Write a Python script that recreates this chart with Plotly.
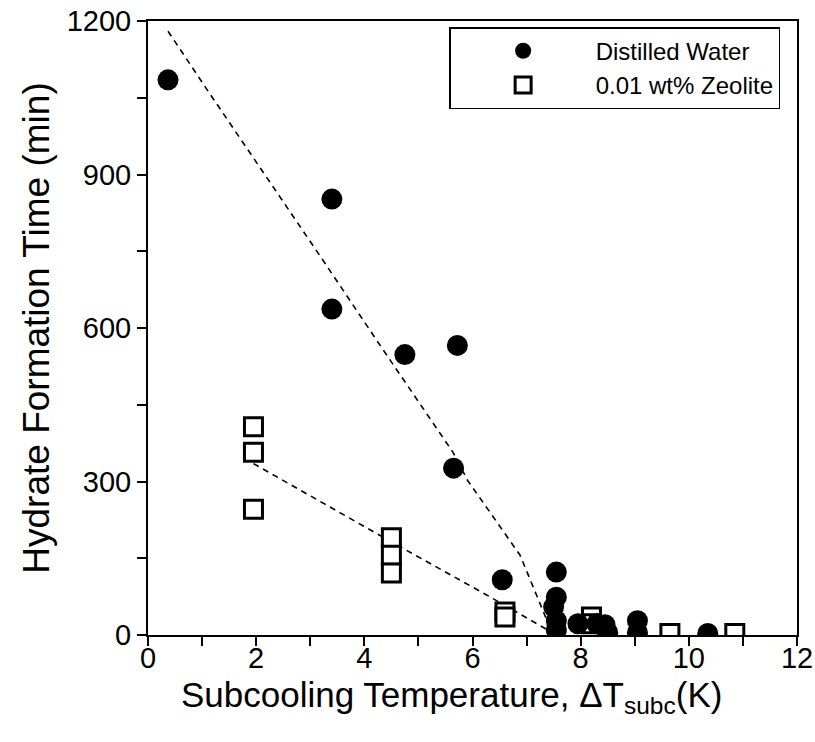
import plotly.graph_objects as go

# Distilled water (filled circles)
dw_x = [0.37, 3.4, 3.4, 4.75, 5.72, 5.65, 6.55, 7.55, 7.55, 7.5, 7.55, 7.55, 7.95, 8.3, 8.45, 8.5, 9.05, 9.05, 10.35]
dw_y = [1085, 852, 637, 548, 566, 326, 108, 123, 74, 55, 28, 10, 22, 22, 20, 5, 28, 5, 3]

# 0.01 wt% Zeolite (open squares)
ze_x = [1.95, 1.95, 1.95, 4.5, 4.5, 4.5, 6.6, 6.6, 8.2, 8.2, 9.65, 10.85]
ze_y = [407, 357, 246, 190, 156, 121, 45, 35, 35, 22, 3, 3]

# dashed trend lines
dw_fit_x = [0.37, 1.11, 3.18, 4.33, 5.64, 5.91, 6.88, 7.39, 7.54]
dw_fit_y = [1180, 1063, 741, 560, 357, 302, 156, 25, 6]
ze_fit_x = [1.95, 4.5, 6.3, 7.3, 7.55]
ze_fit_y = [335, 182, 76, 14, 0]

x_ticks = [0, 2, 4, 6, 8, 10, 12]
y_ticks = [0, 300, 600, 900, 1200]

x_title = "Subcooling Temperature, ΔT<sub>subc</sub>(K)"
y_title = "Hydrate Formation Time (min)"

FONT = "Liberation Sans, Arial, sans-serif"

fig = go.Figure()
fig.add_trace(go.Scatter(x=dw_fit_x, y=dw_fit_y, mode="lines",
                         line=dict(color="black", width=1.6, dash="6px,5px"),
                         showlegend=False, hoverinfo="skip"))
fig.add_trace(go.Scatter(x=ze_fit_x, y=ze_fit_y, mode="lines",
                         line=dict(color="black", width=1.6, dash="6px,5px"),
                         showlegend=False, hoverinfo="skip"))
fig.add_trace(go.Scatter(x=ze_x, y=ze_y, mode="markers", name="0.01 wt% Zeolite",
                         marker=dict(symbol="square", size=18, color="white",
                                     line=dict(color="black", width=3))))
fig.add_trace(go.Scatter(x=dw_x, y=dw_y, mode="markers", name="Distilled Water",
                         marker=dict(symbol="circle", size=21, color="black",
                                     line=dict(width=0))))

axis_common = dict(
    showline=True, linecolor="black", linewidth=2, mirror=True,
    showgrid=False, zeroline=False, automargin=False,
    ticks="outside", ticklen=9, tickwidth=2, tickcolor="black",
    tickfont=dict(family=FONT, size=29, color="black"),
)

fig.update_layout(
    width=815, height=742,
    margin=dict(l=148, r=18, t=21, b=107),
    plot_bgcolor="white", paper_bgcolor="white",
    font=dict(family=FONT, color="black"),
    xaxis=dict(range=[0, 12], tickvals=x_ticks, ticklabelstandoff=-13,
               minor=dict(dtick=1, ticks="outside", ticklen=9, tickwidth=2, tickcolor="black"),
               **axis_common),
    yaxis=dict(range=[0, 1200], tickvals=y_ticks,
               minor=dict(dtick=150, ticks="outside", ticklen=9, tickwidth=2, tickcolor="black"),
               title=dict(text=y_title, font=dict(family=FONT, size=37), standoff=6),
               **axis_common),
    legend=dict(x=0.464, y=0.99, xanchor="left", yanchor="top",
                bordercolor="black", borderwidth=1.5, bgcolor="white",
                traceorder="reversed",
                font=dict(family=FONT, size=24, color="black"),
                itemwidth=135, tracegroupgap=0),
    annotations=[dict(text=x_title, xref="paper", yref="paper",
                      x=0.468, y=-0.101, xanchor="center", yanchor="middle",
                      showarrow=False, font=dict(family=FONT, size=35, color="black"))],
)

fig.write_html("out.html")
